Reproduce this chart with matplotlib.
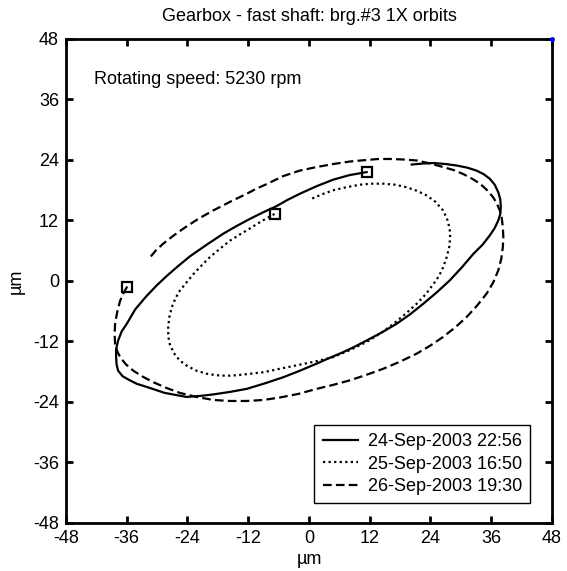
import matplotlib
matplotlib.use("Agg")
import matplotlib.pyplot as plt

plt.rcParams['font.family'] = ['Liberation Sans', 'DejaVu Sans']
plt.rcParams['axes.unicode_minus'] = False

# orbit traces, first point is where each orbit starts (drawn with a square)
orbit1_x = [11.4, 8.0, 4.8, 1.5, -1.8, -4.2, -6.5, -9.1, -11.7, -14.3,
            -16.9, -20.2, -23.5, -25.8, -28.1, -30.1, -32.1, -34.3, -36.0, -37.0,
            -37.7, -38.1, -38.1, -38.0, -37.7, -36.8, -35.4, -34.0, -32.1, -28.5,
            -24.2, -21.5, -18.9, -15.6, -12.3, -8.7, -5.1, -1.8, 1.5, 4.2,
            6.8, 9.1, 11.4, 14.4, 17.3, 20.0, 22.6, 25.2, 27.8, 30.2,
            32.5, 34.3, 35.7, 36.7, 37.4, 37.8, 37.9, 37.8, 37.4, 36.7,
            35.7, 34.5, 33.1, 31.2, 29.2, 27.0, 24.6, 22.5, 20.3]
orbit1_y = [21.6, 21.0, 20.1, 18.8, 17.3, 16.1, 14.8, 13.6, 12.3, 10.9,
            9.4, 7.2, 4.9, 3.0, 1.0, -0.9, -3.0, -5.6, -8.5, -10.0,
            -11.8, -13.5, -15.1, -16.6, -17.8, -18.9, -19.7, -20.4, -21.0, -22.2,
            -23.0, -22.8, -22.5, -22.0, -21.4, -20.3, -19.1, -17.8, -16.4, -15.2,
            -14.1, -13.0, -11.8, -10.2, -8.5, -6.6, -4.5, -2.3, 0.1, 2.7,
            5.4, 7.2, 9.0, 10.5, 12.0, 13.3, 14.7, 16.2, 17.6, 19.1,
            20.3, 21.2, 21.9, 22.5, 22.9, 23.2, 23.4, 23.3, 23.1]

orbit2_x = [-6.8, -9.3, -11.7, -13.7, -15.6, -17.6, -19.6, -21.2, -22.8, -24.2,
            -25.5, -26.4, -27.1, -27.6, -27.8, -27.8, -27.5, -26.7, -25.5, -24.0,
            -22.2, -20.2, -18.2, -16.2, -14.3, -11.6, -9.0, -5.7, -1.8, 1.5,
            4.8, 8.1, 11.4, 14.1, 16.7, 19.1, 21.3, 23.1, 24.6, 25.7,
            26.5, 27.2, 27.7, 27.9, 27.8, 27.3, 26.5, 25.0, 23.2, 21.3,
            19.3, 17.0, 14.7, 12.4, 10.1, 7.4, 4.8, 2.6, 0.5]
orbit2_y = [13.3, 11.9, 10.4, 9.2, 8.0, 6.4, 4.7, 3.1, 1.4, -0.3,
            -1.9, -3.5, -5.2, -7.2, -9.2, -11.0, -12.5, -14.3, -15.8, -16.9,
            -17.8, -18.4, -18.7, -18.8, -18.7, -18.4, -18.1, -17.4, -16.6, -15.9,
            -15.1, -13.7, -12.1, -10.4, -8.5, -6.5, -4.5, -2.6, -0.6, 1.0,
            2.7, 4.7, 6.7, 8.6, 10.4, 12.3, 14.0, 15.7, 17.0, 17.9,
            18.6, 19.1, 19.3, 19.3, 19.1, 18.6, 18.0, 17.2, 16.3]

orbit3_x = [-35.9, -36.7, -37.3, -37.9, -38.3, -38.4, -38.3, -37.9, -37.3, -36.2,
            -34.7, -32.8, -30.7, -28.2, -25.5, -22.2, -18.9, -15.6, -12.3, -9.0,
            -5.7, -2.1, 1.5, 4.8, 8.1, 11.4, 14.7, 18.0, 21.3, 24.0,
            26.5, 28.9, 31.1, 33.2, 35.1, 36.4, 37.4, 38.0, 38.3, 38.4,
            38.3, 38.1, 37.7, 37.1, 36.4, 35.2, 33.8, 32.2, 30.5, 28.6,
            26.5, 24.0, 21.3, 18.6, 16.0, 13.7, 11.4, 8.1, 4.8, 1.5,
            -1.8, -5.1, -8.4, -10.4, -12.3, -15.6, -18.9, -21.9, -24.8, -26.9,
            -28.8, -30.2, -31.4]
orbit3_y = [-1.1, -2.5, -3.9, -6.2, -8.5, -10.5, -12.5, -13.9, -15.1, -16.5,
            -17.8, -19.0, -20.1, -21.2, -22.2, -23.0, -23.6, -23.8, -23.8, -23.6,
            -23.1, -22.4, -21.4, -20.6, -19.7, -18.6, -17.4, -16.0, -14.4, -12.8,
            -11.1, -9.2, -7.2, -4.9, -2.5, -0.3, 2.1, 4.4, 6.7, 8.7,
            10.7, 12.4, 14.0, 15.4, 16.6, 18.0, 19.3, 20.3, 21.2, 22.0,
            22.6, 23.3, 23.9, 24.1, 24.2, 24.2, 24.0, 23.7, 23.2, 22.6,
            21.9, 20.8, 19.2, 18.3, 17.3, 15.7, 14.0, 12.3, 10.4, 8.9,
            7.4, 6.1, 4.7]

labels = ['24-Sep-2003 22:56', '25-Sep-2003 16:50', '26-Sep-2003 19:30']
ticks = [-48, -36, -24, -12, 0, 12, 24, 36, 48]
speed_rpm = 5230

fs = 13

fig = plt.figure(figsize=(5.67, 5.71), dpi=100)
ax = fig.add_axes([0.1164, 0.0841, 0.857, 0.8476])

styles = ['-', (0, (1, 1.5)), (0, (3.9, 1.9))]
orbits = [(orbit1_x, orbit1_y), (orbit2_x, orbit2_y), (orbit3_x, orbit3_y)]
for (ox, oy), ls, lab in zip(orbits, styles, labels):
    ax.plot(ox, oy, color='black', lw=1.6, linestyle=ls, label=lab)
    ax.plot(ox[0], oy[0], 's', ms=7, mfc='none', mec='black', mew=1.6)

# stray point sitting on the top right corner
ax.plot([48], [48], '.', color='blue', ms=5, clip_on=False, zorder=5)

ax.set_xlim(-48, 48)
ax.set_ylim(-48, 48)
ax.set_xticks(ticks)
ax.set_yticks(ticks)
ax.tick_params(direction='in', length=5, width=2, top=True, right=True,
               labelsize=fs, pad=5)
for s in ax.spines.values():
    s.set_linewidth(2)

ax.set_xlabel('µm', fontsize=fs, labelpad=3)
ax.set_ylabel('µm', fontsize=fs, labelpad=6)
ax.set_title('Gearbox - fast shaft: brg.#3 1X orbits', fontsize=fs, pad=13)
ax.text(-42.5, 40, f'Rotating speed: {speed_rpm} rpm', fontsize=fs,
        ha='left', va='center')

leg = ax.legend(loc='lower right', bbox_to_anchor=(0.955, 0.041), borderaxespad=0,
                fontsize=fs, handlelength=1.95, handletextpad=0.55,
                fancybox=False, framealpha=1, edgecolor='black',
                borderpad=0.45, labelspacing=0.3)
leg.get_frame().set_linewidth(1)

fig.savefig('out.png', dpi=100)
